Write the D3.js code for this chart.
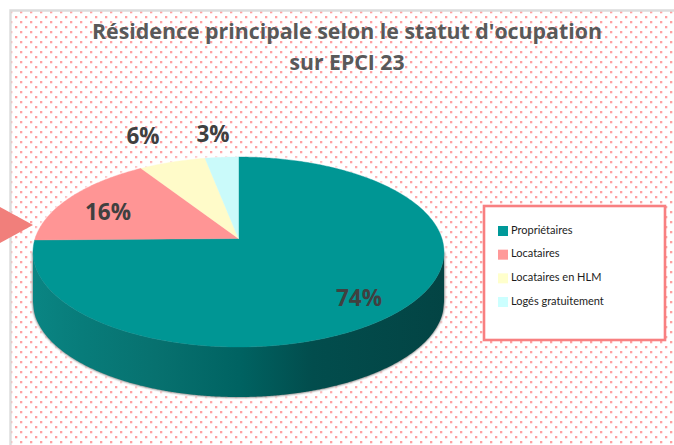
<!DOCTYPE html>
<html><head><meta charset="utf-8">
<script src="https://cdn.jsdelivr.net/npm/d3@7"></script>
<style>html,body{margin:0;padding:0;background:#fff;overflow:hidden}svg{display:block}</style>
</head><body><svg id="c" width="674" height="445"></svg>
<script>
const categories = ["Propriétaires","Locataires","Locataires en HLM","Logés gratuitement"];
const values = [74,16,6,3];
const colors = ["#009694","#FF9595","#FFFBC9","#CAFAFA"];
const legendColors = ["#009999","#FF9999","#FFFFCC","#CCFFFF"];
const titleLines = ["Résidence principale selon le statut d'ocupation","sur EPCI 23"];

const svg = d3.select("#c");
const defs = svg.append("defs");
const pat = defs.append("pattern").attr("id","dots").attr("patternUnits","userSpaceOnUse")
  .attr("width",10).attr("height",10).attr("x",10).attr("y",11);
pat.append("rect").attr("x",0).attr("y",0).attr("width",2.3).attr("height",2.3).attr("fill","#ffa0a2");
pat.append("rect").attr("x",5).attr("y",5).attr("width",2.3).attr("height",2.3).attr("fill","#ffa0a2");

const sideGrad = defs.append("linearGradient").attr("id","side").attr("x1",0).attr("x2",1).attr("y1",0).attr("y2",0);
[[0,"#0a8583"],[0.12,"#087c7a"],[0.3,"#07716f"],[0.5,"#006362"],[0.68,"#024d4d"],[1,"#034444"]].forEach(s=>sideGrad.append("stop").attr("offset",s[0]).attr("stop-color",s[1]));
const blurW = defs.append("filter").attr("id","glow").attr("x","-10%").attr("y","-10%").attr("width","120%").attr("height","120%");
blurW.append("feGaussianBlur").attr("stdDeviation",2.5);
const blurS = defs.append("filter").attr("id","soft").attr("x","-10%").attr("y","-10%").attr("width","120%").attr("height","120%");
blurS.append("feGaussianBlur").attr("stdDeviation",1.1);
const blurE = defs.append("filter").attr("id","edge").attr("x","-5%").attr("y","-5%").attr("width","110%").attr("height","110%");
blurE.append("feGaussianBlur").attr("stdDeviation",0.5);

// background + frame
svg.append("rect").attr("x",10).attr("y",10).attr("width",664).attr("height",435).attr("fill","#fff");
svg.append("rect").attr("x",10).attr("y",10).attr("width",664).attr("height",435).attr("fill","url(#dots)");
svg.append("path").attr("d","M10.5 445V10.5H674").attr("fill","none").attr("stroke","#dcdcdc").attr("stroke-width",2.4);

// arrow
svg.append("path").attr("d","M0 207L33 225L0 243Z").attr("fill","#F17F7B");

// title
svg.append("g").selectAll("text").data(titleLines).join("text")
  .attr("x",347).attr("y",(d,i)=>39+i*31).attr("text-anchor","middle")
  .attr("font-family","'Open Sans',sans-serif").attr("font-weight",700).attr("font-size",22)
  .attr("fill","#595959").attr("textLength",(d,i)=>i?115:510).attr("lengthAdjust","spacingAndGlyphs").text(d=>d);

// pie geometry
const cx=238.5, cy=252, rx=205.5, ry=95, depth=50, ax=238.5, ay=238.5;
const pie = d3.pie().sort(null).value(d=>d);
const arcs = pie(values);
function rim(theta){
  const dx=Math.sin(theta)*rx, dy=-Math.cos(theta)*ry;
  const ox=ax-cx, oy=ay-cy;
  const a=dx*dx/(rx*rx)+dy*dy/(ry*ry), b=2*(ox*dx/(rx*rx)+oy*dy/(ry*ry)), c=ox*ox/(rx*rx)+oy*oy/(ry*ry)-1;
  const t=(-b+Math.sqrt(b*b-4*a*c))/(2*a);
  return [ax+dx*t, ay+dy*t];
}
const xs = d3.range(cx-rx, cx+rx+0.01, 1);
const lowY = x=>cy+ry*Math.sqrt(Math.max(0,1-((x-cx)/rx)**2));
const side = d3.area().x(d=>d).y0(lowY).y1(d=>lowY(d)+depth);
const ell = d3.area().x(d=>d).y0(d=>2*cy-lowY(d)).y1(d=>lowY(d)+depth);

// halo and shadow
svg.append("path").attr("d",ell(xs)).attr("fill","#fff").attr("stroke","#fff").attr("stroke-width",4).attr("filter","url(#glow)");
svg.append("path").attr("d",side(xs)).attr("fill","#3a3a3a").attr("stroke","#3a3a3a").attr("stroke-width",1).attr("opacity",0.75).attr("filter","url(#soft)");
svg.append("path").attr("d",side(xs)).attr("fill","url(#side)");

// slices
const line = d3.line();
svg.append("g").selectAll("path").data(arcs).join("path")
  .attr("d",d=>{
    const n=Math.max(4,Math.ceil((d.endAngle-d.startAngle)*80));
    const pts=d3.range(n+1).map(i=>rim(d.startAngle+(d.endAngle-d.startAngle)*i/n));
    return line([[ax,ay],...pts])+"Z";
  })
  .attr("fill",(d,i)=>colors[i]).attr("stroke",(d,i)=>colors[i]).attr("stroke-width",0.4).attr("filter","url(#edge)");

// percent labels
const labelAnchors=[[359,306],[108,220],[143,143.5],[213,141.5]];
svg.append("g").selectAll("text").data(values).join("text")
  .attr("x",(d,i)=>labelAnchors[i][0]).attr("y",(d,i)=>labelAnchors[i][1]).attr("text-anchor","middle")
  .attr("font-family","'Open Sans',sans-serif").attr("font-weight",700).attr("font-size",22.5)
  .attr("fill","#404040").text(d=>d+"%");

// legend
svg.append("rect").attr("x",484).attr("y",206).attr("width",181).attr("height",134).attr("fill","#fff").attr("stroke","#F88081").attr("stroke-width",2.6);
const rowY = d3.scalePoint().domain(categories).range([231,302]);
const lg = svg.append("g").selectAll("g").data(categories).join("g").attr("transform",d=>`translate(0,${rowY(d)})`);
lg.append("rect").attr("x",498).attr("y",-5).attr("width",10).attr("height",10).attr("fill",(d,i)=>legendColors[i]);
lg.append("text").attr("x",511).attr("y",2.5).attr("font-family","Lato,sans-serif").attr("font-size",11).attr("fill","#1c1c1c").text(d=>d);
</script></body></html>
